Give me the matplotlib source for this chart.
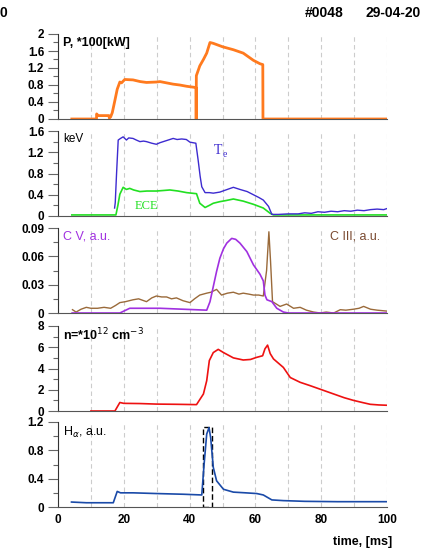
import matplotlib.pyplot as plt
from matplotlib.ticker import MultipleLocator, FuncFormatter
from matplotlib.patches import Rectangle

plt.rcParams['font.family'] = ['Liberation Sans', 'DejaVu Sans']

# heating power, *100 kW
p_t = [4.2, 11.7, 11.75, 12.2, 15.5, 15.6, 16.0, 16.5, 17.3, 18.0,
       18.8, 19.3, 20.3, 22.8, 25.0, 26.9, 29.9, 31.0, 33.0, 35.0,
       37.0, 39.1, 41.95, 42.0, 42.05, 43.1, 44.2, 45.2, 46.2, 47.2,
       50.0, 53.3, 56.3, 59.4, 61.4, 62.25, 62.3, 100]
p_v = [0, 0, 0.12, 0.08, 0.08, 0.02, 0.05, 0.15, 0.44, 0.7,
       0.87, 0.85, 0.93, 0.92, 0.88, 0.86, 0.87, 0.88, 0.85, 0.82,
       0.8, 0.77, 0.74, 0, 1.02, 1.25, 1.40, 1.55, 1.8, 1.78,
       1.7, 1.63, 1.55, 1.38, 1.30, 1.28, 0, 0]

# electron temperature, keV
te_t = [17.2, 17.4, 17.8, 18.3, 19.0, 19.8, 20.3, 20.8, 21.5, 22.8,
        23.8, 24.9, 26.0, 26.9, 28.5, 29.9, 31.0, 32.0, 33.5, 35.0,
        36.2, 37.6, 39.0, 40.1, 41.9, 42.6, 43.2, 43.7, 44.7, 46.0,
        47.2, 49.2, 51.0, 53.3, 55.3, 57.5, 59.4, 61.0, 62.4, 63.2,
        64.0, 65.0, 67, 70, 73, 75, 77, 79, 81, 83,
        85, 87, 89, 91, 93, 95, 97, 99, 100]
te_v = [0.15, 0.25, 0.8, 1.43, 1.46, 1.49, 1.46, 1.43, 1.47, 1.46,
        1.43, 1.40, 1.41, 1.40, 1.37, 1.35, 1.38, 1.40, 1.43, 1.46,
        1.44, 1.45, 1.44, 1.39, 1.37, 1.05, 0.75, 0.55, 0.44, 0.44,
        0.43, 0.45, 0.49, 0.54, 0.50, 0.46, 0.40, 0.35, 0.30, 0.24,
        0.18, 0.03, 0.03, 0.04, 0.04, 0.06, 0.05, 0.08, 0.07, 0.09,
        0.08, 0.1, 0.09, 0.11, 0.1, 0.12, 0.13, 0.12, 0.14]

# ECE
ece_t = [4.2, 17.6, 18.2, 18.8, 19.8, 20.8, 21.8, 23.0, 24.9, 27.0,
         29.9, 32.0, 34.0, 36.5, 39.1, 42.1, 43.1, 44.7, 46.0, 47.2,
         49.2, 51.0, 53.3, 56.3, 59.4, 62.4, 64.5, 65.5, 100]
ece_v = [0.02, 0.02, 0.2, 0.41, 0.54, 0.50, 0.52, 0.49, 0.46, 0.47,
         0.47, 0.48, 0.49, 0.47, 0.44, 0.42, 0.24, 0.16, 0.20, 0.24,
         0.27, 0.29, 0.32, 0.28, 0.22, 0.15, 0.05, 0.02, 0.02]

# C V line
cv_t = [4.3, 18.8, 21.8, 25.0, 31.0, 38.0, 45.2, 46.2, 47.2, 48.2,
        49.2, 50.3, 51.3, 52.8, 54.0, 55.3, 57.4, 59.4, 61.4, 62.4,
        62.9, 63.5, 65.0, 66.5, 68.5, 70.0, 100]
cv_v = [0, 0, 0.005, 0.005, 0.005, 0.004, 0.003, 0.012, 0.028, 0.044,
        0.058, 0.068, 0.074, 0.079, 0.078, 0.074, 0.065, 0.051, 0.041, 0.034,
        0.019, 0.014, 0.012, 0.005, 0.001, 0, 0]

# C III line
c3_t = [4.4, 5.5, 7.0, 8.6, 10.0, 12.0, 14.0, 16.0, 17.5, 18.8,
        20.5, 22.8, 24.5, 26.9, 28.5, 29.9, 31.5, 33.0, 34.5, 36.0,
        38.0, 40.1, 41.5, 43.1, 45.2, 46.5, 48.2, 49.7, 51.5, 53.3,
        55.0, 56.3, 58.0, 59.4, 61.0, 62.4, 63.4, 64.1, 64.6, 65.2,
        67.5, 69.5, 71.6, 73.6, 75.5, 77.7, 79.7, 81.5, 83.8, 85.8,
        87.5, 89.8, 91.5, 92.9, 95.0, 97.0, 100]
c3_v = [0.0035, 0.001, 0.004, 0.006, 0.005, 0.005, 0.006, 0.005, 0.008, 0.011,
        0.012, 0.014, 0.015, 0.012, 0.016, 0.018, 0.017, 0.017, 0.015, 0.016,
        0.013, 0.011, 0.015, 0.019, 0.021, 0.022, 0.025, 0.019, 0.021, 0.022,
        0.020, 0.021, 0.020, 0.019, 0.019, 0.018, 0.045, 0.086, 0.055, 0.012,
        0.007, 0.0095, 0.005, 0.006, 0.003, 0.001, 0.0, 0.001, 0.0, 0.0035,
        0.003, 0.004, 0.005, 0.007, 0.004, 0.003, 0.002]

# density, 1e12 cm^-3
n_t = [10.0, 17.3, 18.8, 20.0, 25.0, 30.0, 36.0, 42.1, 44.2, 45.2,
       46.0, 47.2, 48.7, 50.3, 53.3, 56.3, 58.5, 60.4, 62.2, 62.9,
       63.7, 64.5, 65.5, 67.0, 68.5, 70.6, 73.6, 76.5, 79.7, 83.8,
       87.0, 89.8, 92.5, 94.9, 97.5, 100]
n_v = [0, 0, 0.8, 0.72, 0.7, 0.65, 0.63, 0.6, 1.6, 2.85,
       4.75, 5.5, 5.8, 5.5, 5.0, 4.8, 4.85, 5.05, 5.2, 5.85,
       6.2, 5.4, 4.9, 4.5, 4.1, 3.15, 2.7, 2.4, 2.05, 1.6,
       1.25, 1.0, 0.8, 0.63, 0.57, 0.54]

# H-alpha
h_t = [4.1, 8.6, 16.8, 18.0, 19.0, 22.8, 29.9, 38.1, 43.7, 44.4,
       45.2, 45.9, 46.4, 47.2, 48.2, 50.3, 53.3, 57.0, 60.4, 62.4,
       65.0, 68.5, 75.0, 85.0, 100]
h_v = [0.07, 0.06, 0.06, 0.22, 0.2, 0.2, 0.19, 0.18, 0.17, 0.6,
       1.03, 1.12, 0.98, 0.56, 0.37, 0.25, 0.21, 0.2, 0.19, 0.17,
       0.1, 0.09, 0.08, 0.075, 0.075]
box_t0, box_t1, box_top = 44.2, 46.7, 1.13

# panel y settings: (top, major step, minor step)
ylims = [(2, 0.4, 0.2), (1.6, 0.4, 0.2), (0.09, 0.03, 0.015), (8, 2, 1), (1.2, 0.4, 0.2)]

W, H = 437, 554
fig = plt.figure(figsize=(W / 100, H / 100), dpi=100)
tops_px = [34, 131, 228, 326, 422]
axes = []
for i, top in enumerate(tops_px):
    ax = fig.add_axes([58 / W, 1 - (top + 85) / H, 329 / W, 85 / H])
    ymax, maj, mnr = ylims[i]
    ax.set_xlim(0, 100)
    ax.set_ylim(0, ymax)
    ax.yaxis.set_major_locator(MultipleLocator(maj))
    ax.yaxis.set_minor_locator(MultipleLocator(mnr))
    ax.yaxis.set_major_formatter(FuncFormatter(lambda v, p: '%g' % round(v, 4)))
    ax.xaxis.set_major_locator(MultipleLocator(20))
    ax.xaxis.set_minor_locator(MultipleLocator(10))
    ax.grid(axis='x', which='both', linestyle=(0, (4, 3)), color='#cccccc', lw=0.8)
    ax.set_axisbelow(True)
    ax.spines['top'].set_visible(False)
    ax.spines['right'].set_visible(False)
    ax.spines['left'].set_color('#333333')
    ax.spines['bottom'].set_color('#555555')
    ax.tick_params(axis='y', which='major', length=7, width=0.8, color='#666666',
                   labelsize=8.5, pad=3)
    ax.tick_params(axis='y', which='minor', length=3.6, width=0.8, color='#666666')
    ax.tick_params(axis='x', which='both', length=0, labelsize=8.5, pad=5)
    for lab in ax.get_yticklabels():
        lab.set_fontweight('bold')
    if i < 4:
        ax.tick_params(axis='x', labelbottom=False)
    axes.append(ax)

ax1, ax2, ax3, ax4, ax5 = axes

ax1.plot(p_t, p_v, color='#ff7a1e', lw=2)
ax1.text(0.015, 0.894, 'P, *100[kW]', transform=ax1.transAxes, fontsize=9,
         fontweight='bold', va='center')

ax2.plot(ece_t, ece_v, color='#22e022', lw=1.2)
ax2.plot(te_t, te_v, color='#3d2bd0', lw=1.0)
ax2.text(0.015, 0.906, 'keV', transform=ax2.transAxes, fontsize=8.5, va='center')
ax2.text(47.4, 1.24, 'T', color='#3d2bd0', fontsize=10, family='Liberation Serif', va='center')
ax2.annotate('e', xy=(47.4, 1.24), xytext=(6.5, -3), textcoords='offset points',
             color='#3d2bd0', fontsize=7, family='Liberation Serif', va='center')
ax2.text(23.4, 0.19, 'ECE', color='#22e022', fontsize=9, family='Liberation Serif', va='center')

ax3.plot(c3_t, c3_v, color='#9a6a3a', lw=1.0)
ax3.plot(cv_t, cv_v, color='#a030e0', lw=1.2)
ax3.text(0.015, 0.9, 'C V, a.u.', transform=ax3.transAxes, fontsize=9,
         color='#a030e0', va='center')
ax3.text(0.98, 0.9, 'C III, a.u.', transform=ax3.transAxes, fontsize=9,
         color='#7a4a30', va='center', ha='right')

ax4.plot(n_t, n_v, color='#ee1111', lw=1.2)
ax4.text(0.015, 0.894, r'n=*10$^{12}$ cm$^{-3}$', transform=ax4.transAxes, fontsize=9,
         fontweight='bold', va='center')

ax5.plot(h_t, h_v, color='#1a4aa8', lw=1.2)
ax5.add_patch(Rectangle((box_t0, 0), box_t1 - box_t0, box_top, fill=False,
                        edgecolor='black', linestyle=(0, (4, 2)), lw=1.0))
ax5.text(0.015, 0.88, r'H$_\alpha$, a.u.', transform=ax5.transAxes, fontsize=9,
         va='center')
for lab in ax5.get_xticklabels():
    lab.set_fontweight('bold')

fig.text(0.0, 1 - 13 / H, '0', fontsize=10, fontweight='bold', ha='left', va='center')
fig.text(305 / W, 1 - 13 / H, '#0048', fontsize=10, fontweight='bold', va='center')
fig.text(365 / W, 1 - 13 / H, '29-04-20', fontsize=10, fontweight='bold', va='center')
fig.text(392 / W, 1 - 542 / H, 'time, [ms]', fontsize=9, fontweight='bold',
         ha='right', va='center')

fig.savefig('out.png', dpi=100)
